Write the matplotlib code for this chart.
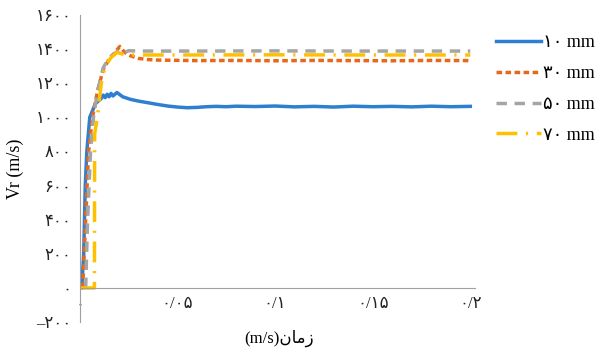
import numpy as np
import matplotlib
matplotlib.use('Agg')
import matplotlib.pyplot as plt

# persian digits
def fa(s):
    return s.translate(str.maketrans('0123456789', '۰۱۲۳۴۵۶۷۸۹'))

labels = ['10 mm', '30 mm', '50 mm', '70 mm']

t_10 = [0.001, 0.002, 0.0028, 0.0036, 0.0051, 0.008, 0.011, 0.012, 0.013, 0.014, 0.015,
        0.016, 0.017, 0.019, 0.022, 0.026, 0.030, 0.035, 0.040, 0.045, 0.050, 0.055,
        0.060, 0.065, 0.070, 0.075, 0.080, 0.090, 0.100, 0.110, 0.120, 0.130, 0.140,
        0.150, 0.160, 0.170, 0.180, 0.190, 0.200]
v_10 = [0, 200, 600, 800, 1000, 1080, 1110, 1130, 1115, 1135, 1120,
        1140, 1125, 1145, 1120, 1105, 1095, 1085, 1075, 1066, 1060, 1056,
        1058, 1062, 1064, 1062, 1065, 1063, 1066, 1061, 1064, 1060, 1065,
        1062, 1064, 1061, 1065, 1062, 1064]

t_30 = [0.0015, 0.003, 0.0045, 0.0065, 0.009, 0.012, 0.015, 0.018, 0.0205, 0.023,
        0.026, 0.030, 0.035, 0.040, 0.060, 0.080, 0.100, 0.120, 0.140, 0.160, 0.180, 0.200]
v_30 = [0, 400, 800, 1000, 1150, 1280, 1340, 1380, 1415, 1380,
        1360, 1345, 1338, 1335, 1332, 1333, 1331, 1333, 1332, 1331, 1333, 1332]

t_50 = [0.003, 0.004, 0.0055, 0.007, 0.009, 0.012, 0.015, 0.018, 0.020, 0.022,
        0.025, 0.030, 0.060, 0.100, 0.140, 0.200]
v_50 = [0, 400, 800, 1000, 1150, 1290, 1350, 1375, 1392, 1375,
        1390, 1388, 1388, 1389, 1388, 1388]

t_70 = [0.0, 0.0075, 0.0076, 0.009, 0.011, 0.013, 0.016, 0.019, 0.022, 0.025,
        0.060, 0.100, 0.140, 0.200]
v_70 = [0, 0, 900, 1000, 1200, 1300, 1350, 1380, 1370, 1365,
        1365, 1366, 1365, 1365]

xticks = [0, 0.05, 0.1, 0.15, 0.2]
xtick_labels = ['0', '0/05', '0/1', '0/15', '0/2']
yticks = [-200, 0, 200, 400, 600, 800, 1000, 1200, 1400, 1600]

fam = ['Liberation Serif', 'DejaVu Sans']
plt.rcParams['font.family'] = fam

fig = plt.figure(figsize=(6, 3.54), dpi=100)
ax = fig.add_axes([0.133, 0.09, 0.659, 0.868])

ax.plot(t_10, v_10, color='#2F7FD0', lw=2.5, label=fa(labels[0]))
ax.plot(t_30, v_30, color='#E8681A', lw=2.5, dashes=(1.6, 1.0), label=fa(labels[1]))
ax.plot(t_50, v_50, color='#A5A5A5', lw=2.5, dashes=(3, 2.2), label=fa(labels[2]))
ax.plot(t_70, v_70, color='#FFC000', lw=2.5, dashes=(6, 2.5, 0.6, 2.5), label=fa(labels[3]))

ax.set_xlim(0, 0.2025)
ax.set_ylim(-200, 1600)
ax.set_xticks(xticks)
ax.set_xticklabels([fa(s) for s in xtick_labels])
ax.set_yticks(yticks)
ax.set_yticklabels([fa(str(v)).replace('-', '\u2013') for v in yticks])
ax.tick_params(length=0, labelsize=12, colors='#222222')
ax.tick_params(axis='x', pad=6)
ax.tick_params(axis='y', pad=6)

for s in ['top', 'right']:
    ax.spines[s].set_visible(False)
ax.spines['left'].set_color('#A0A0A0')
ax.spines['bottom'].set_color('#A0A0A0')
ax.spines['bottom'].set_position(('data', 0))

ax.set_ylabel('Vr (m/s)', fontsize=13, labelpad=8)
# "zaman" in presentation forms, visual order
fig.text(0.465, 0.02, '(m/s)' + '\uFEE5\uFE8E\uFEE3\uFEAF', ha='center', va='bottom', fontsize=12)

ax.legend(loc='upper left', bbox_to_anchor=(1.035, 0.96), frameon=False, fontsize=13,
          handlelength=2.5, handletextpad=0.1, labelspacing=0.76, borderaxespad=0)

fig.savefig('out.png', dpi=100)
